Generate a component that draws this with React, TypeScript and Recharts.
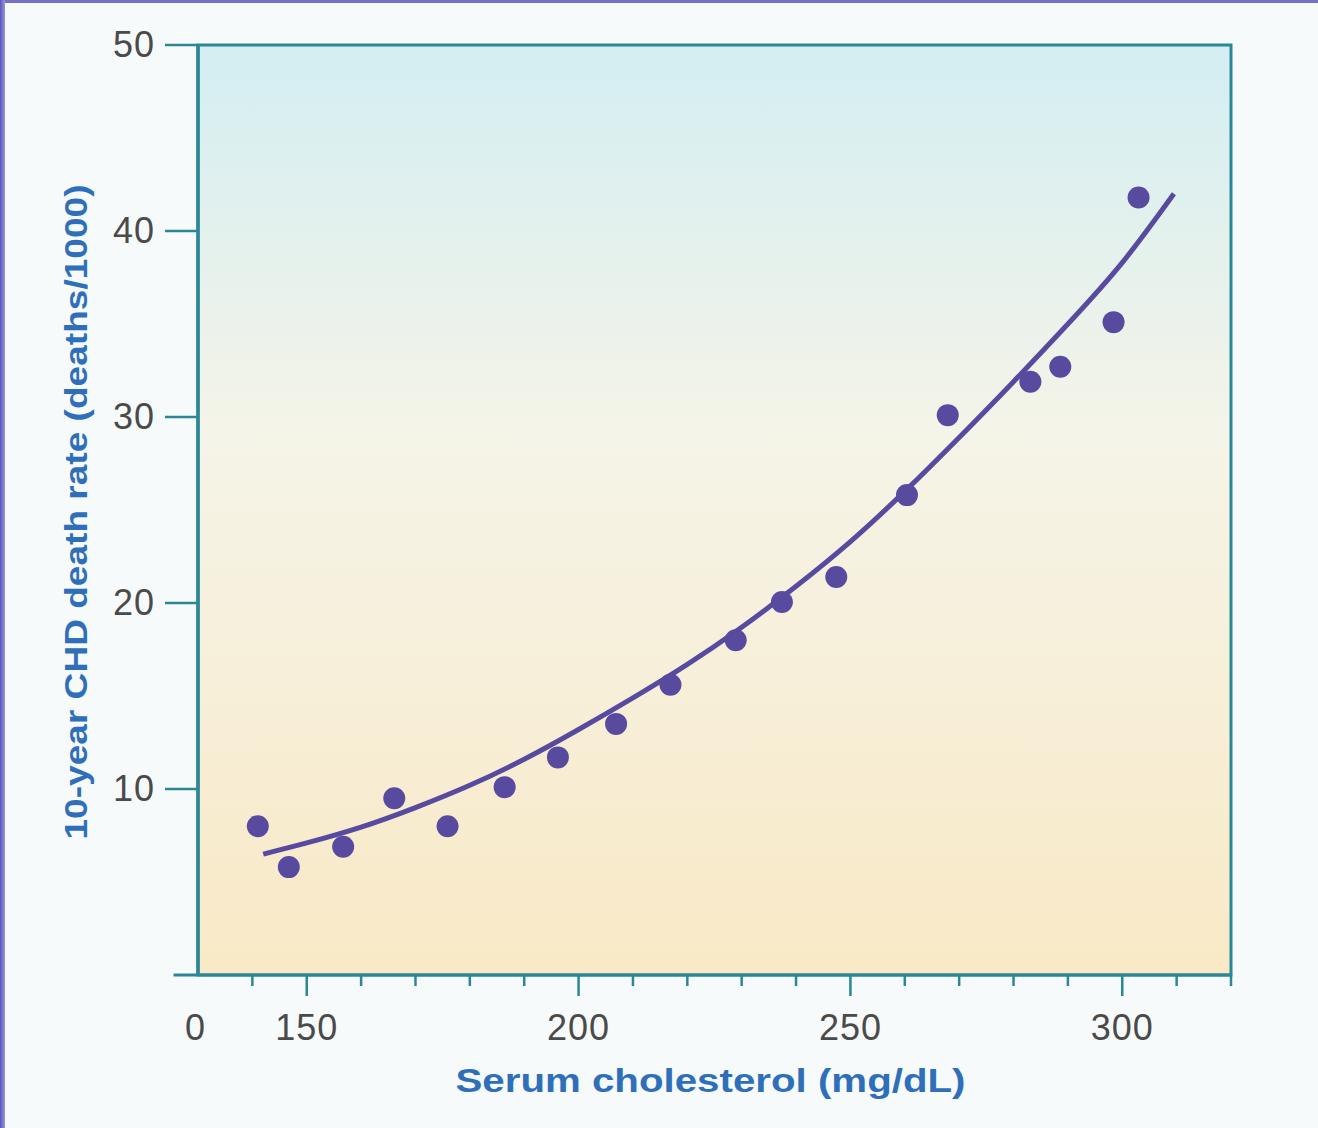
import React from 'react';
import {
  ComposedChart,
  Line,
  Scatter,
  XAxis,
  YAxis,
  CartesianGrid,
  ReferenceLine,
  ReferenceArea,
} from 'recharts';

// Observed points (serum cholesterol, 10-year CHD deaths per 1000)
const cholesterol = [141, 146.7, 156.7, 166.1, 175.9, 186.4, 196.2, 206.9, 216.9, 228.9, 237.4, 247.4, 260.4, 267.9, 283.1, 288.6, 298.4, 303];
const deathRate = [8.0, 5.8, 6.9, 9.5, 8.0, 10.1, 11.7, 13.5, 15.6, 18.0, 20.05, 21.4, 25.8, 30.1, 31.9, 32.7, 35.1, 41.8];

// Fitted curve
const curveX = [142, 150, 160, 170, 180, 190, 200, 210, 220, 230, 240, 250, 260, 270, 280, 290, 300, 309.5];
const curveY = [6.5, 7.1, 7.95, 9.0, 10.2, 11.6, 13.2, 14.9, 16.7, 18.7, 20.9, 23.3, 26.0, 28.9, 31.9, 35.0, 38.3, 42.0];

const xTicks = [130, 140, 150, 160, 170, 180, 190, 200, 210, 220, 230, 240, 250, 260, 270, 280, 290, 300, 310, 320];
const xLabelled = [150, 200, 250, 300];
const yTicks = [0, 10, 20, 30, 40, 50];

const TEAL = '#2b8796';
const PURPLE = '#574a9f';
const BLUE = '#2f6fba';
const GREY = '#4a4a4a';
const FONT = '"Liberation Sans", Arial, Helvetica, sans-serif';

const points = cholesterol.map((x, i) => ({ x, y: deathRate[i] }));
const curve = curveX.map((x, i) => ({ x, y: curveY[i] }));

const XTick = (props: any) => {
  const { x, y, payload } = props;
  const v = payload.value;
  if (v === 130) {
    return (
      <text x={x - 3} y={y + 65} textAnchor="middle" fontSize={36} fill={GREY} fontFamily={FONT}>
        0
      </text>
    );
  }
  const major = xLabelled.includes(v);
  return (
    <g>
      <line x1={x} y1={y} x2={x} y2={y + (major ? 21 : 11)} stroke={TEAL} strokeWidth={2.5} />
      {major && (
        <text x={x} y={y + 65} textAnchor="middle" fontSize={36} letterSpacing={1} fill={GREY} fontFamily={FONT}>
          {v}
        </text>
      )}
    </g>
  );
};

const YTick = (props: any) => {
  const { x, y, payload } = props;
  if (payload.value === 0) return null;
  return (
    <g>
      <line x1={x - 33} y1={y} x2={x} y2={y} stroke={TEAL} strokeWidth={2.5} />
      <text x={x - 43} y={y + 12} textAnchor="end" fontSize={36} letterSpacing={1} fill={GREY} fontFamily={FONT}>
        {payload.value}
      </text>
    </g>
  );
};

const XLabel = (props: any) => {
  const vb = props.viewBox;
  return (
    <text
      x={vb.x + vb.width / 2 - 4}
      y={vb.y + 117}
      textAnchor="middle"
      fontSize={34}
      fontWeight="bold"
      fill={BLUE}
      fontFamily={FONT}
      textLength={510}
      lengthAdjust="spacingAndGlyphs"
    >
      Serum cholesterol (mg/dL)
    </text>
  );
};

const YLabel = (props: any) => {
  const vb = props.viewBox;
  const cx = 87;
  const cy = vb.y + vb.height / 2 + 2;
  return (
    <text
      x={cx}
      y={cy}
      transform={`rotate(-90, ${cx}, ${cy})`}
      textAnchor="middle"
      fontSize={31}
      fontWeight="bold"
      fill={BLUE}
      fontFamily={FONT}
      textLength={655}
      lengthAdjust="spacingAndGlyphs"
    >
      10-year CHD death rate (deaths/1000)
    </text>
  );
};

export default function App() {
  return (
    <div style={{ position: 'absolute', left: 0, top: 0, width: 1318, height: 1128, background: '#f6fafb' }}>
      <div style={{ position: 'absolute', left: 0, top: 0, width: 1318, height: 3, background: '#7470c8' }} />
      <div style={{ position: 'absolute', left: 0, top: 0, width: 5, height: 1128, background: 'linear-gradient(to right, #5a55c0, #9a97dc)' }} />
      <ComposedChart
        width={1318}
        height={1128}
        margin={{ top: 45, right: 87, bottom: 0, left: 0 }}
        style={{ position: 'absolute', left: 0, top: 0 }}
      >
        <defs>
          <linearGradient id="plotBg" x1="0" y1="0" x2="0" y2="1">
            <stop offset="0%" stopColor="#d3eef2" />
            <stop offset="42%" stopColor="#f5f4e8" />
            <stop offset="100%" stopColor="#f9e9c6" />
          </linearGradient>
        </defs>
        <CartesianGrid horizontal={false} vertical={false} fill="url(#plotBg)" />
        <XAxis
          type="number"
          dataKey="x"
          domain={[130, 320]}
          ticks={xTicks}
          interval={0}
          height={153}
          axisLine={{ stroke: TEAL, strokeWidth: 3 }}
          tickLine={false}
          tickSize={0}
          tickMargin={0}
          tick={<XTick />}
          label={<XLabel />}
          allowDataOverflow
        />
        <YAxis
          type="number"
          domain={[0, 50]}
          ticks={yTicks}
          interval={0}
          width={198}
          axisLine={{ stroke: TEAL, strokeWidth: 3.5 }}
          tickLine={false}
          tickSize={0}
          tickMargin={0}
          tick={<YTick />}
          label={<YLabel />}
        />
        <ReferenceArea
          x1={130}
          x2={320}
          y1={0}
          y2={50}
          fill="none"
          fillOpacity={0}
          stroke={TEAL}
          strokeWidth={3}
          ifOverflow="visible"
        />
        <ReferenceLine
          segment={[{ x: 125.5, y: 0 }, { x: 130, y: 0 }]}
          stroke={TEAL}
          strokeWidth={3}
          ifOverflow="visible"
        />
        <Line
          data={curve}
          dataKey="y"
          type="natural"
          stroke={PURPLE}
          strokeWidth={5}
          dot={false}
          activeDot={false}
          isAnimationActive={false}
        />
        <Scatter
          data={points}
          dataKey="y"
          fill={PURPLE}
          shape={(p: any) => <circle cx={p.cx} cy={p.cy} r={11} fill={PURPLE} />}
          isAnimationActive={false}
        />
      </ComposedChart>
    </div>
  );
}
